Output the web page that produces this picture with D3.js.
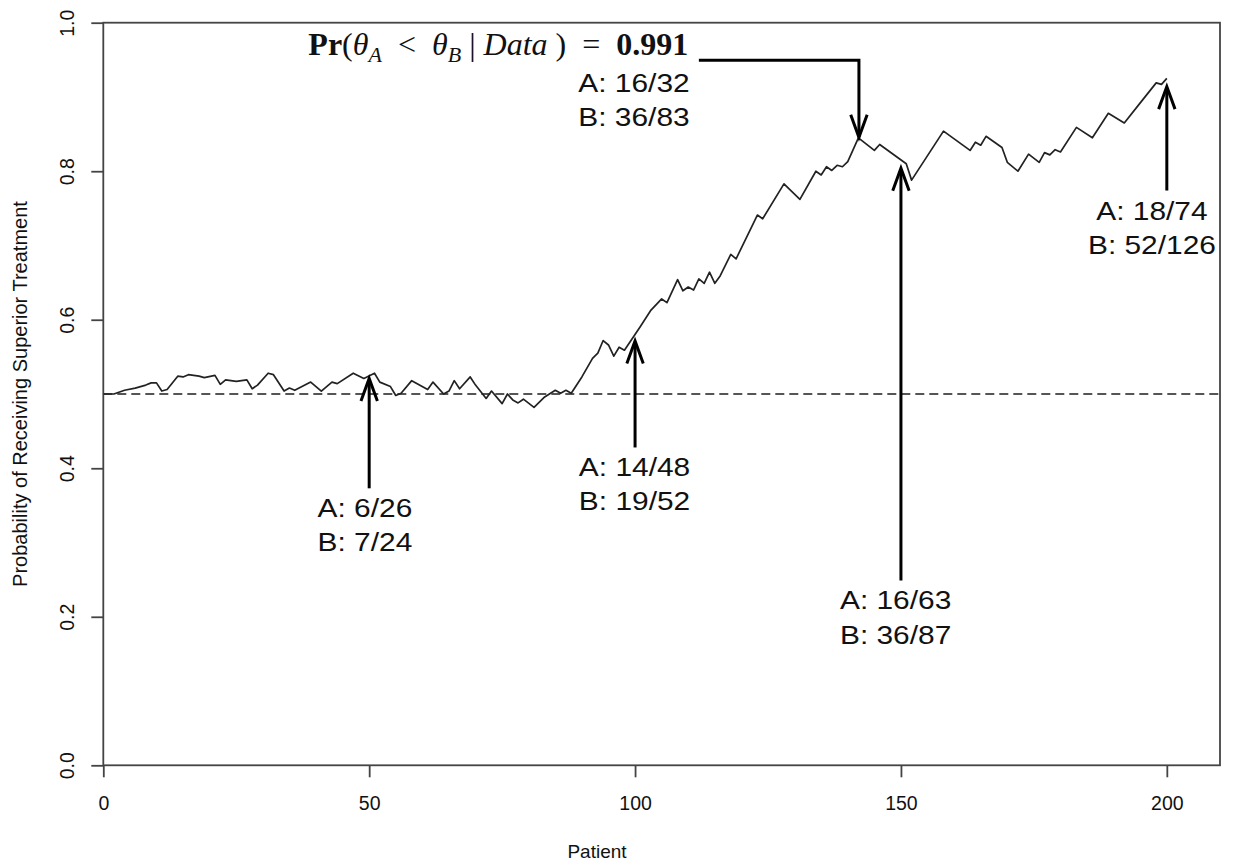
<!DOCTYPE html>
<html>
<head>
<meta charset="utf-8">
<script src="https://cdn.jsdelivr.net/npm/d3@7"></script>
<style>
    body { margin: 0; background: #fff; }
    svg { display: block; }
    text { font-family: "Liberation Sans", Arial, Helvetica, sans-serif; fill: #111; }
</style>
</head>
<body>
<svg id="chart" width="1235" height="865"></svg>
<script>
// [patient, probability of receiving superior treatment]
let trace = [
    [0, 0.500], [2, 0.500], [4, 0.505], [6, 0.508], [8, 0.512], [9, 0.515], [10, 0.515],
    [11, 0.504], [12, 0.506], [14, 0.524], [15, 0.523], [16, 0.526], [18, 0.524], [19, 0.522],
    [21, 0.525], [22, 0.513], [23, 0.519], [25, 0.517], [27, 0.519], [28, 0.507], [29, 0.512],
    [31, 0.528], [32, 0.526], [34, 0.504], [35, 0.508], [36, 0.505], [39, 0.516], [41, 0.504],
    [43, 0.516], [44, 0.514], [47, 0.528], [49, 0.521], [51, 0.528], [52, 0.516], [54, 0.510],
    [55, 0.498], [56, 0.501], [58, 0.518], [61, 0.506], [62, 0.516], [64, 0.500], [65, 0.504],
    [66, 0.518], [67, 0.507], [69, 0.523], [70, 0.512], [72, 0.494], [73, 0.504], [75, 0.487],
    [76, 0.500], [77, 0.492], [78, 0.488], [79, 0.493], [81, 0.482], [83, 0.496], [85, 0.505],
    [86, 0.501], [87, 0.505], [88, 0.501], [90, 0.523], [92, 0.548], [93, 0.555], [94, 0.572],
    [95, 0.566], [96, 0.551], [97, 0.563], [98, 0.559], [101, 0.591], [103, 0.613], [105, 0.628],
    [106, 0.623], [108, 0.654], [109, 0.639], [110, 0.644], [111, 0.640], [112, 0.655], [113, 0.649],
    [114, 0.664], [115, 0.649], [116, 0.659], [118, 0.688], [119, 0.682], [123, 0.741], [124, 0.736],
    [128, 0.783], [131, 0.762], [134, 0.800], [135, 0.795], [136, 0.806], [137, 0.801], [138, 0.808],
    [139, 0.806], [140, 0.813], [142, 0.845], [145, 0.828], [146, 0.836], [151, 0.810], [152, 0.788],
    [158, 0.854], [163, 0.828], [164, 0.839], [165, 0.835], [166, 0.847], [169, 0.832], [170, 0.812],
    [172, 0.800], [174, 0.823], [176, 0.812], [177, 0.825], [178, 0.822], [179, 0.829], [180, 0.826],
    [183, 0.859], [186, 0.845], [189, 0.878], [192, 0.865], [195, 0.892], [198, 0.919], [199, 0.917],
    [200, 0.925]
];

let xTicks = [0, 50, 100, 150, 200];
let yTicks = [0, 0.2, 0.4, 0.6, 0.8, 1.0];
let reference = 0.5;

// Straight arrows, tail -> head, in data units
let arrows = [
    {from: [50, 0.373], to: [50, 0.521]},
    {from: [100, 0.428], to: [100, 0.5715]},
    {from: [150, 0.249], to: [150, 0.804]},
    {from: [200, 0.774], to: [200, 0.914]}
];
// Bent arrow from the posterior label down to the peak
let elbow = [[112, 0.9496], [142.1, 0.9496], [142.1, 0.8456]];

// Success counts shown at each arrow
let labels = [
    {x: 49.2, y: 0.3476, lines: ["A: 6/26", "B: 7/24"]},
    {x: 99.9, y: 0.4028, lines: ["A: 14/48", "B: 19/52"]},
    {x: 149, y: 0.2225, lines: ["A: 16/63", "B: 36/87"]},
    {x: 197.2, y: 0.7474, lines: ["A: 18/74", "B: 52/126"]},
    {x: 99.8, y: 0.9197, lines: ["A: 16/32", "B: 36/83"]}
];
let posterior = {x: 110, y: 0.9721, value: "0.991"};

let svg = d3.select("#chart");

let x = d3.scaleLinear().domain([0, 210]).range([103.3, 1220]);
let y = d3.scaleLinear().domain([0, 1]).range([765.3, 22.7]);

let axisColor = "#444";

// x axis
let xAxis = svg.append("g")
    .attr("transform", "translate(0," + y(0) + ")")
    .attr("color", axisColor)
    .call(d3.axisBottom(x).tickValues(xTicks).tickFormat(d3.format("d"))
        .tickSize(12).tickSizeOuter(0).tickPadding(19));
xAxis.select(".domain").remove();
xAxis.selectAll(".tick line").attr("stroke-width", 1.8);
xAxis.selectAll(".tick text").attr("font-size", 19.5);

// y axis, labels turned like R's default
let yAxis = svg.append("g")
    .attr("transform", "translate(" + x(0) + ",0)")
    .attr("color", axisColor)
    .call(d3.axisLeft(y).tickValues(yTicks).tickFormat(d3.format(".1f"))
        .tickSize(12).tickSizeOuter(0));
yAxis.select(".domain").remove();
yAxis.selectAll(".tick line").attr("stroke-width", 1.8);
yAxis.selectAll(".tick text")
    .attr("font-size", 19.5)
    .attr("transform", "rotate(-90)")
    .attr("x", 0)
    .attr("y", -36)
    .attr("dy", "0.35em")
    .attr("text-anchor", "middle");

// plot box
svg.append("rect")
    .attr("x", x(0))
    .attr("y", y(1))
    .attr("width", x(210) - x(0))
    .attr("height", y(0) - y(1))
    .attr("fill", "none")
    .attr("stroke", axisColor)
    .attr("stroke-width", 1.8);

// axis titles
svg.append("text")
    .attr("x", 597)
    .attr("y", 851)
    .attr("dy", "0.35em")
    .attr("text-anchor", "middle")
    .attr("font-size", 19)
    .text("Patient");

svg.append("text")
    .attr("transform", "translate(20," + (y(0) + y(1)) / 2 + ") rotate(-90)")
    .attr("dy", "0.35em")
    .attr("text-anchor", "middle")
    .attr("font-size", 20)
    .text("Probability of Receiving Superior Treatment");

// dashed line at 0.5
svg.append("line")
    .attr("x1", x(0))
    .attr("x2", x(210))
    .attr("y1", y(reference))
    .attr("y2", y(reference))
    .attr("stroke", "#555")
    .attr("stroke-width", 1.8)
    .attr("stroke-dasharray", "9,5");

// the probability trace
svg.append("path")
    .datum(trace)
    .attr("fill", "none")
    .attr("stroke", "#222")
    .attr("stroke-width", 1.7)
    .attr("stroke-linejoin", "round")
    .attr("d", d3.line().x(function (d) { return x(d[0]); }).y(function (d) { return y(d[1]); }));

// arrows
let ann = svg.append("g").attr("class", "arrows");

function drawHead(tail, tip) {
    let ang = Math.atan2(tip[1] - tail[1], tip[0] - tail[0]);
    let len = 24, spread = 20 * Math.PI / 180;
    let a = [tip[0] - len * Math.cos(ang - spread), tip[1] - len * Math.sin(ang - spread)];
    let b = [tip[0] - len * Math.cos(ang + spread), tip[1] - len * Math.sin(ang + spread)];
    ann.append("path")
        .attr("d", "M" + a + "L" + tip + "L" + b)
        .attr("fill", "none")
        .attr("stroke", "#000")
        .attr("stroke-width", 3)
        .attr("stroke-linejoin", "miter");
}

arrows.forEach(function (d) {
    let tail = [x(d.from[0]), y(d.from[1])];
    let tip = [x(d.to[0]), y(d.to[1])];
    ann.append("line")
        .attr("x1", tail[0]).attr("y1", tail[1])
        .attr("x2", tip[0]).attr("y2", tip[1] + 2)
        .attr("stroke", "#000")
        .attr("stroke-width", 3);
    drawHead(tail, tip);
});

let elbowPx = elbow.map(function (d) { return [x(d[0]), y(d[1])]; });
ann.append("path")
    .attr("d", d3.line()(elbowPx))
    .attr("fill", "none")
    .attr("stroke", "#000")
    .attr("stroke-width", 3);
drawHead(elbowPx[1], elbowPx[2]);

// count labels (the source font runs a bit wide, so stretch horizontally)
let lineGap = 34.5;
labels.forEach(function (d) {
    svg.append("g")
        .selectAll("text")
        .data(d.lines)
        .enter()
        .append("text")
        .attr("transform", function (t, i) {
            return "translate(" + x(d.x) + "," + (y(d.y) + i * lineGap) + ") scale(1.15,1)";
        })
        .attr("dy", "0.36em")
        .attr("text-anchor", "middle")
        .attr("font-size", 26)
        .text(function (t) { return t; });
});

// Pr(theta_A < theta_B | Data) = 0.991
let formula = svg.append("text")
    .attr("x", x(posterior.x))
    .attr("y", y(posterior.y))
    .attr("dy", "0.35em")
    .attr("text-anchor", "end")
    .attr("font-size", 32)
    .style("font-family", "'Liberation Serif', 'DejaVu Serif', serif");

formula.append("tspan").attr("font-weight", "bold").text("Pr");
formula.append("tspan").text("(");
formula.append("tspan").attr("font-style", "italic").text("θ");
formula.append("tspan").attr("font-style", "italic").attr("font-size", 22).attr("dy", 7).text("A");
formula.append("tspan").attr("dy", -7).text("\u2002<\u2002");
formula.append("tspan").attr("font-style", "italic").text("θ");
formula.append("tspan").attr("font-style", "italic").attr("font-size", 22).attr("dy", 7).text("B");
formula.append("tspan").attr("dy", -7).text(" | ");
formula.append("tspan").attr("font-style", "italic").text("Data");
formula.append("tspan").text(" )\u2002=\u2002");
formula.append("tspan").attr("font-weight", "bold").text(posterior.value);
</script>
</body>
</html>
